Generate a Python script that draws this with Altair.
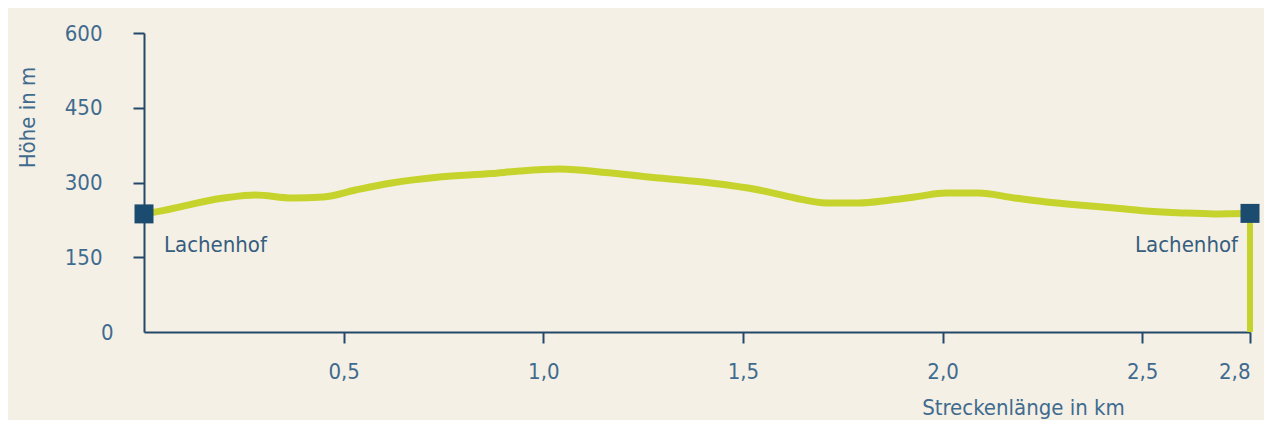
import altair as alt
import pandas as pd

# distance along the route (km) and elevation (m)
km = [0.00, 0.03, 0.20, 0.28, 0.37, 0.45, 0.53, 0.62, 0.74, 0.87, 0.94, 1.04,
      1.17, 1.29, 1.42, 1.54, 1.63, 1.71, 1.79, 1.87, 1.93, 2.01, 2.09, 2.18,
      2.26, 2.34, 2.43, 2.51, 2.60, 2.68, 2.75, 2.77]
elev = [237, 241, 269, 275, 269, 271, 285, 299, 311, 318, 323, 327,
        319, 309, 299, 285, 269, 259, 259, 265, 271, 279, 279, 269,
        261, 255, 249, 243, 239, 237, 238, 238]

end_km = [0.0, 2.77]
end_elev = [237, 238]
end_names = ["Lachenhof", "Lachenhof"]

x_ticks = [0.5, 1.0, 1.5, 2.0, 2.5, 2.77]
y_ticks = [0, 150, 300, 450, 600]

FONT = "DejaVu Sans Condensed, Roboto, sans-serif"
AXIS = "#23486a"
LABEL = "#3f6b8f"
GREEN = "#c6d32c"
NAVY = "#1c4b70"

profile = pd.DataFrame({"km": km, "elev": elev})
ends = pd.DataFrame({"km": end_km, "elev": end_elev, "name": end_names, "base": [0, 0]})

xenc = alt.X(
    "km:Q",
    scale=alt.Scale(domain=[0, 2.77], nice=False, zero=True),
    axis=alt.Axis(
        values=x_ticks,
        labelExpr="replace(format(datum.value, '.1f'), '.', ',')",
        grid=False,
        domainColor=AXIS, domainWidth=2,
        tickColor=AXIS, tickWidth=2, tickSize=11,
        labelFont=FONT, labelFontSize=22, labelColor=LABEL, labelPadding=18,
        title="Streckenlänge in km",
        titleFont=FONT, titleFontSize=22, titleFontWeight="normal", titleColor=LABEL,
        titleX=879, titleY=82, titleAlign="center", titleBaseline="alphabetic",
    ),
)
yenc = alt.Y(
    "elev:Q",
    scale=alt.Scale(domain=[0, 600], nice=False),
    axis=alt.Axis(
        values=y_ticks,
        grid=False,
        domainColor=AXIS, domainWidth=2,
        tickColor=AXIS, tickWidth=2, tickSize=11,
        tickOpacity={"condition": {"test": "datum.value == 0", "value": 0}, "value": 1},
        labelFont=FONT, labelFontSize=22, labelColor=LABEL,
        labelPadding={"condition": {"test": "datum.value == 0", "value": 20}, "value": 31},
        title="Höhe in m",
        titleFont=FONT, titleFontSize=22, titleFontWeight="normal", titleColor=LABEL,
        titleX=-117, titleY=84, titleAlign="center", titleBaseline="middle", titleAngle=270,
    ),
)

line = alt.Chart(profile).mark_line(
    interpolate="monotone", color=GREEN, strokeWidth=7, strokeCap="round"
).encode(x=xenc, y=yenc)

drop = alt.Chart(ends).transform_filter("datum.km > 1").mark_rule(
    color=GREEN, strokeWidth=6
).encode(x="km:Q", y="elev:Q", y2="base:Q")

squares = alt.Chart(ends).mark_square(
    size=361, color=NAVY, opacity=1, clip=False
).encode(x="km:Q", y="elev:Q")

label_start = alt.Chart(ends).transform_filter("datum.km < 1").mark_text(
    align="left", baseline="middle", dx=20, dy=31,
    font=FONT, fontSize=22, color="#355e80"
).encode(x="km:Q", y="elev:Q", text="name:N")

label_end = alt.Chart(ends).transform_filter("datum.km > 1").mark_text(
    align="right", baseline="middle", dx=-12, dy=32,
    font=FONT, fontSize=22, color="#355e80"
).encode(x="km:Q", y="elev:Q", text="name:N")

chart = alt.layer(line, drop, squares, label_start, label_end).properties(
    width=1106, height=299,
    autosize=alt.AutoSizeParams(type="none"),
    padding={"left": 136, "top": 25, "right": 14, "bottom": 88},
    background="#f5f0e5",
).configure_view(stroke=None)

chart.save("out.html", embed_options={"renderer": "svg", "actions": False})
